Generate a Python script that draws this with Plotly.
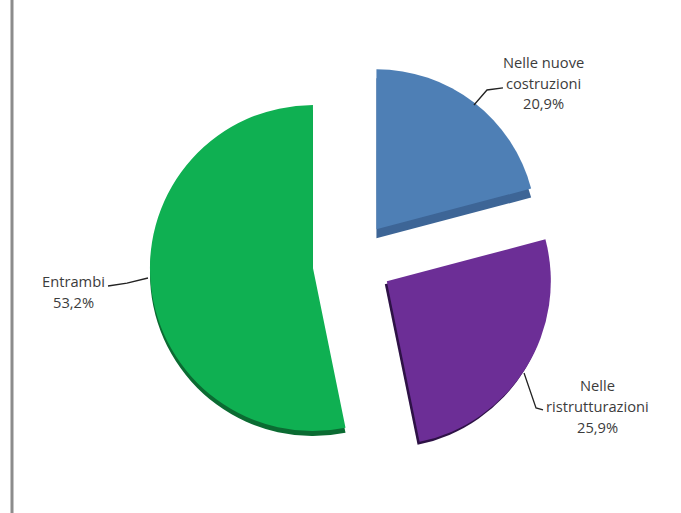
import plotly.graph_objects as go

categories = ["Nelle nuove costruzioni", "Nelle ristrutturazioni", "Entrambi"]
values = [20.9, 25.9, 53.2]
value_labels = ["20,9%", "25,9%", "53,2%"]
colors = ["#4E7FB5", "#6C2E96", "#0FB052"]
side_colors = ["#3D6596", "#2E1246", "#0B6B32"]
pull = 0.25

W, H = 681, 513
# per-slice circle centre and radius in pixels (the original is slightly elliptical)
centers = [(352, 261), (352, 259.5), (353.5, 264)]
radii = [160, 164, 163]
# sideways and downward offset of each slice's darker edge, pixels
side_offset = [(0, 9), (-2, 3), (0, 5)]


def domain(cx, cy, r):
    span = r * (1 + pull)
    return dict(x=[(cx - span) / W, (cx + span) / W],
                y=[1 - (cy + span) / H, 1 - (cy - span) / H])


fig = go.Figure()
pie_args = dict(
    labels=categories, values=values, sort=False, direction="clockwise",
    rotation=0, pull=pull, textinfo="none", hoverinfo="label+percent",
    showlegend=False,
)
for layer in ("side", "top"):
    for i in range(3):
        cols = ["rgba(0,0,0,0)"] * 3
        cols[i] = side_colors[i] if layer == "side" else colors[i]
        dx, dy = side_offset[i] if layer == "side" else (0, 0)
        fig.add_trace(go.Pie(domain=domain(centers[i][0] + dx, centers[i][1] + dy, radii[i]),
                             marker=dict(colors=cols, line=dict(width=0)), **pie_args))

label_lines = [
    (543, 62, "Nelle nuove"), (543, 83, "costruzioni"), (543, 103, value_labels[0]),
    (597, 385, "Nelle"), (597, 406, "ristrutturazioni"), (597, 427, value_labels[1]),
    (73, 281, categories[2]), (73, 302, value_labels[2]),
]
for x, y, t in label_lines:
    fig.add_annotation(x=x / W, y=1 - y / H, xref="paper", yref="paper", text=t,
                       showarrow=False, align="center", xanchor="center", yanchor="middle",
                       font=dict(family="Open Sans, sans-serif", size=14.7, color="#3c3c3c"))


def px_path(points):
    return "M " + " L ".join(f"{x / W:.4f},{1 - y / H:.4f}" for x, y in points)


leaders = [
    [(474, 105), (487, 90), (503, 88)],
    [(524, 373), (536, 408), (543, 410)],
    [(108, 286), (127, 283), (148, 278)],
]
shapes = [dict(type="path", path=px_path(p), xref="paper", yref="paper",
               line=dict(color="#222222", width=1.3)) for p in leaders]
shapes.append(dict(type="line", xref="paper", yref="paper", x0=12 / W, x1=12 / W,
                   y0=0, y1=1, line=dict(color="#8c8c8c", width=3)))

fig.update_layout(width=W, height=H, margin=dict(l=0, r=0, t=0, b=0),
                  paper_bgcolor="white", shapes=shapes)
fig.write_html("out.html", config={"displayModeBar": False},
               post_script="document.body.style.margin='0';")
